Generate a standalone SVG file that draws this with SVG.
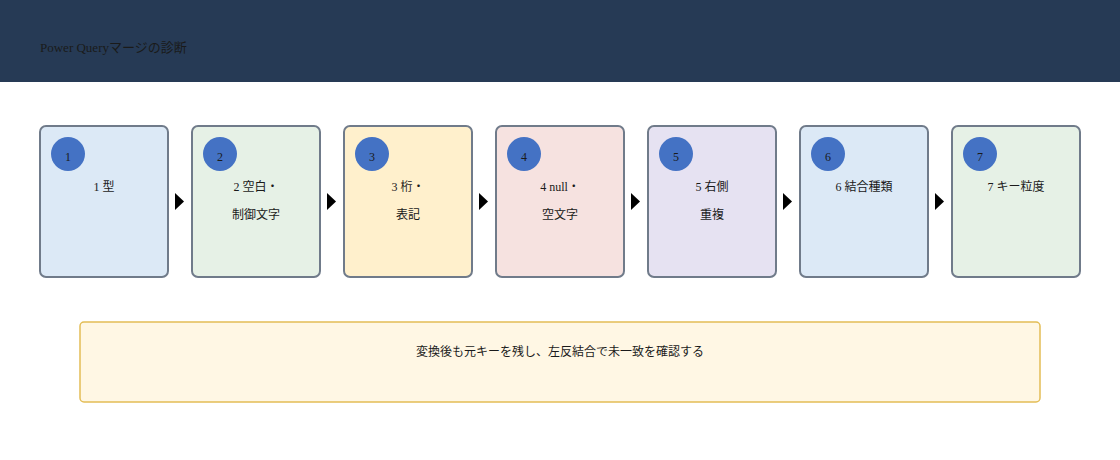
<svg xmlns="http://www.w3.org/2000/svg" width="1120" height="460" viewBox="0 0 1120 460">
<style>
text{font-family:"Liberation Serif","Noto Sans CJK JP",serif;font-size:12px;fill:#1a1a1a}
.box{stroke:#707b8a;stroke-width:2}
.c{fill:#4472c4}
.t{text-anchor:middle}
</style>
<rect x="0" y="0" width="1120" height="82" fill="#263a55"/>
<text x="40" y="52" style="font-size:13px">Power Queryマージの診断</text>
<g id="connectors" fill="#000">
<polygon points="175,193 184,201.5 175,210"/>
<polygon points="327,193 336,201.5 327,210"/>
<polygon points="479,193 488,201.5 479,210"/>
<polygon points="631,193 640,201.5 631,210"/>
<polygon points="783,193 792,201.5 783,210"/>
<polygon points="935,193 944,201.5 935,210"/>
</g>
<g id="n1"><rect class="box" x="40" y="126" width="128" height="151" rx="6" fill="#dce9f6"/><circle class="c" cx="68" cy="154" r="17"/><text class="t" x="68" y="161">1</text><text class="t" x="104" y="191">1 型</text></g>
<g id="n2"><rect class="box" x="192" y="126" width="128" height="151" rx="6" fill="#e6f1e6"/><circle class="c" cx="220" cy="154" r="17"/><text class="t" x="220" y="161">2</text><text class="t" x="256" y="191">2 空白・</text><text class="t" x="256" y="219">制御文字</text></g>
<g id="n3"><rect class="box" x="344" y="126" width="128" height="151" rx="6" fill="#fff0cc"/><circle class="c" cx="372" cy="154" r="17"/><text class="t" x="372" y="161">3</text><text class="t" x="408" y="191">3 桁・</text><text class="t" x="408" y="219">表記</text></g>
<g id="n4"><rect class="box" x="496" y="126" width="128" height="151" rx="6" fill="#f6e2e0"/><circle class="c" cx="524" cy="154" r="17"/><text class="t" x="524" y="161">4</text><text class="t" x="560" y="191">4 null・</text><text class="t" x="560" y="219">空文字</text></g>
<g id="n5"><rect class="box" x="648" y="126" width="128" height="151" rx="6" fill="#e6e2f2"/><circle class="c" cx="676" cy="154" r="17"/><text class="t" x="676" y="161">5</text><text class="t" x="712" y="191">5 右側</text><text class="t" x="712" y="219">重複</text></g>
<g id="n6"><rect class="box" x="800" y="126" width="128" height="151" rx="6" fill="#dce9f6"/><circle class="c" cx="828" cy="154" r="17"/><text class="t" x="828" y="161">6</text><text class="t" x="864" y="191">6 結合種類</text></g>
<g id="n7"><rect class="box" x="952" y="126" width="128" height="151" rx="6" fill="#e6f1e6"/><circle class="c" cx="980" cy="154" r="17"/><text class="t" x="980" y="161">7</text><text class="t" x="1016" y="191">7 キー粒度</text></g>
<g id="note"><rect x="80" y="322" width="960" height="80" rx="4" fill="#fff7e4" stroke="#e3bd55" stroke-width="1.5"/><text class="t" x="560" y="356">変換後も元キーを残し、左反結合で未一致を確認する</text></g>
</svg>
